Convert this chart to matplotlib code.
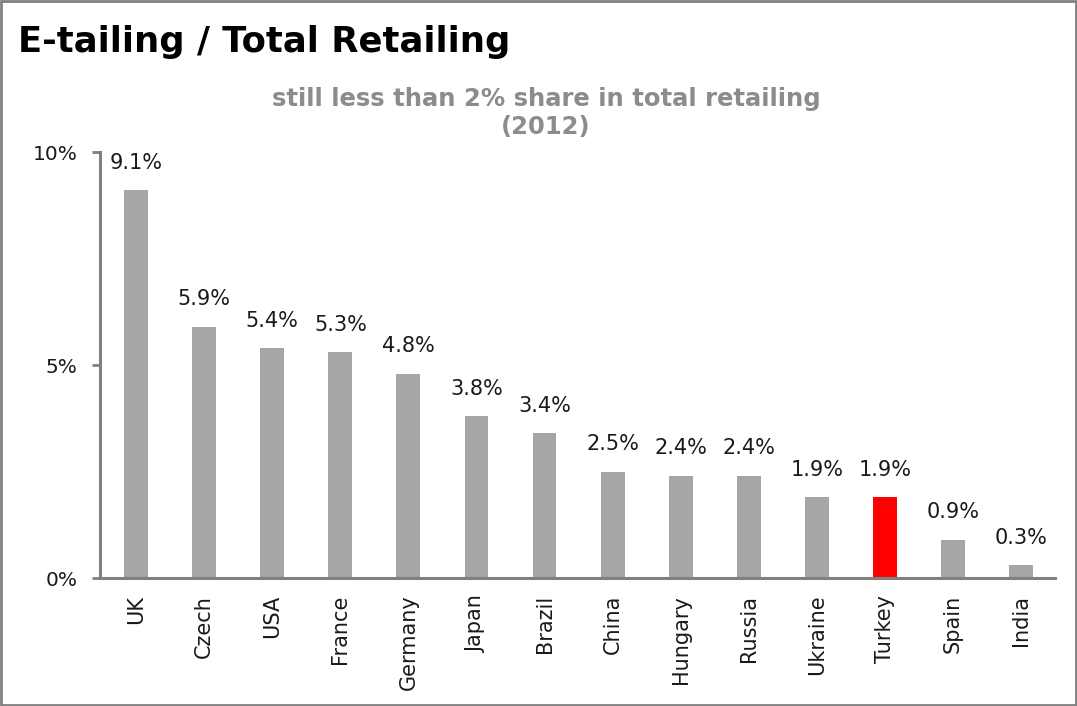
import matplotlib.pyplot as plt
from matplotlib.patches import Rectangle

countries = ["UK", "Czech", "USA", "France", "Germany", "Japan", "Brazil",
             "China", "Hungary", "Russia", "Ukraine", "Turkey", "Spain", "India"]
shares = [9.1, 5.9, 5.4, 5.3, 4.8, 3.8, 3.4, 2.5, 2.4, 2.4, 1.9, 1.9, 0.9, 0.3]
highlight = "Turkey"
y_ticks = [0, 5, 10]

fig = plt.figure(figsize=(10.77, 7.06), dpi=100)
ax = fig.add_axes([0.0929, 0.1813, 0.8867, 0.6034])

colors = ["#ff0000" if c == highlight else "#a6a6a6" for c in countries]
x = range(len(countries))
ax.bar(x, shares, width=0.35, color=colors)

for xi, v in zip(x, shares):
    ax.text(xi, v + 0.5, f"{v:.1f}%", ha="center", va="baseline",
            fontsize=15, color="#1a1a1a")

ax.set_xlim(-0.53, len(countries) - 0.5)
ax.set_ylim(0, 10)
ax.set_yticks(y_ticks)
ax.set_yticklabels([f"{t}%" for t in y_ticks], fontsize=14.5, color="#1a1a1a")
ax.set_xticks(list(x))
ax.set_xticklabels(countries, rotation=90, fontsize=15, color="#1a1a1a")
ax.tick_params(axis="x", length=0, pad=12)
ax.tick_params(axis="y", length=6, width=2, color="#808080", pad=10)

for side in ["top", "right"]:
    ax.spines[side].set_visible(False)
for side in ["left", "bottom"]:
    ax.spines[side].set_color("#808080")
    ax.spines[side].set_linewidth(2.2)

fig.text(0.017, 0.94, "E-tailing / Total Retailing", fontsize=25.5,
         fontweight="bold", color="black", ha="left", va="center")
fig.text(0.507, 0.84, "still less than 2% share in total retailing\n(2012)",
         fontsize=17.5, fontweight="bold", color="#8c8c8c", ha="center",
         va="center", linespacing=1.2)

fig.add_artist(Rectangle((0.001, 0.001), 0.998, 0.997, transform=fig.transFigure,
                         fill=False, edgecolor="#808080", linewidth=2))

fig.savefig("out.png", dpi=100)
